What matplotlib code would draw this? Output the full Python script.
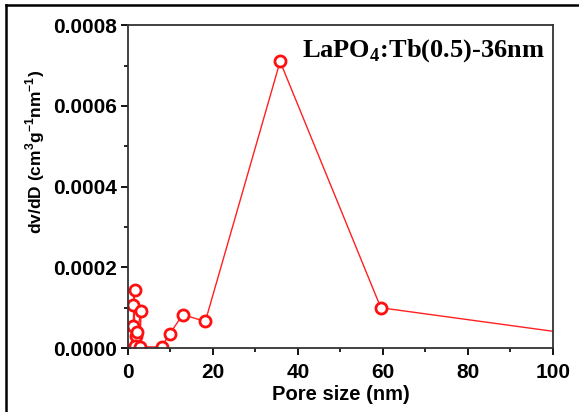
import matplotlib
matplotlib.use('Agg')
import matplotlib.pyplot as plt
from matplotlib.lines import Line2D
from matplotlib.ticker import MultipleLocator, FormatStrFormatter

# pore size distribution
pore_size = [1.2, 1.6, 1.2, 2.0, 1.6, 2.2, 3.1, 2.8, 7.9, 9.8, 12.9, 18.2, 35.8, 59.5, 104.0]
dv_dD = [0.000055, 0.000145, 0.000106, 0.000030, 0.000005, 0.000040, 0.000093,
         0.000003, 0.000003, 0.000035, 0.000083, 0.000066, 0.000710, 0.000100, 0.000036]
sample_label = r'LaPO$_{\mathrm{4}}$:Tb(0.5)-36nm'

plt.rcParams['font.family'] = 'Liberation Sans'
plt.rcParams['font.weight'] = 'bold'
plt.rcParams['mathtext.fontset'] = 'custom'
plt.rcParams['mathtext.rm'] = 'Liberation Serif:bold'
plt.rcParams['mathtext.sf'] = 'Liberation Sans:bold'

fig = plt.figure(figsize=(5.79, 4.12), dpi=100)
ax = fig.add_axes([0.221, 0.155, 0.734, 0.784])

ax.plot(pore_size, dv_dD, color='#ff2020', lw=1.0, marker='o', ms=8,
        mfc='white', mec='#ff1010', mew=2.0, clip_on=True)

ax.set_xlim(0, 100)
ax.set_ylim(0, 0.0008)
ax.xaxis.set_major_locator(MultipleLocator(20))
ax.xaxis.set_minor_locator(MultipleLocator(10))
ax.yaxis.set_major_locator(MultipleLocator(0.0002))
ax.yaxis.set_minor_locator(MultipleLocator(0.0001))
ax.yaxis.set_major_formatter(FormatStrFormatter('%.4f'))

ax.tick_params(which='major', direction='out', length=5, width=1.3, labelsize=15)
ax.tick_params(axis='x', which='major', pad=6)
ax.tick_params(axis='y', which='major', pad=3)
ax.tick_params(which='minor', direction='out', length=3, width=1.2)
for lab in ax.get_xticklabels() + ax.get_yticklabels():
    lab.set_fontweight('bold')
for sp in ax.spines.values():
    sp.set_linewidth(1.3)
    sp.set_color('#333333')

ax.set_xlabel('Pore size (nm)', fontsize=14.5, fontweight='bold', labelpad=2)
ax.set_ylabel(r'dv/dD (cm$^{\mathsf{3}}$g$^{\mathsf{-1}}$nm$^{\mathsf{-1}}$)',
              fontsize=12.5, fontweight='bold')
ax.yaxis.set_label_coords(-0.19, 0.607)

ax.text(0.41, 0.92, sample_label, transform=ax.transAxes, fontsize=19,
        fontweight='bold', family='Liberation Serif', ha='left', va='center')

# frame of the cropped screenshot (left and top edges)
fig.add_artist(Line2D([0.011, 0.011], [0, 0.988], transform=fig.transFigure, color='black', lw=1.8))
fig.add_artist(Line2D([0.011, 1.0], [0.988, 0.988], transform=fig.transFigure, color='black', lw=1.8))

fig.savefig('out.png', dpi=100)
